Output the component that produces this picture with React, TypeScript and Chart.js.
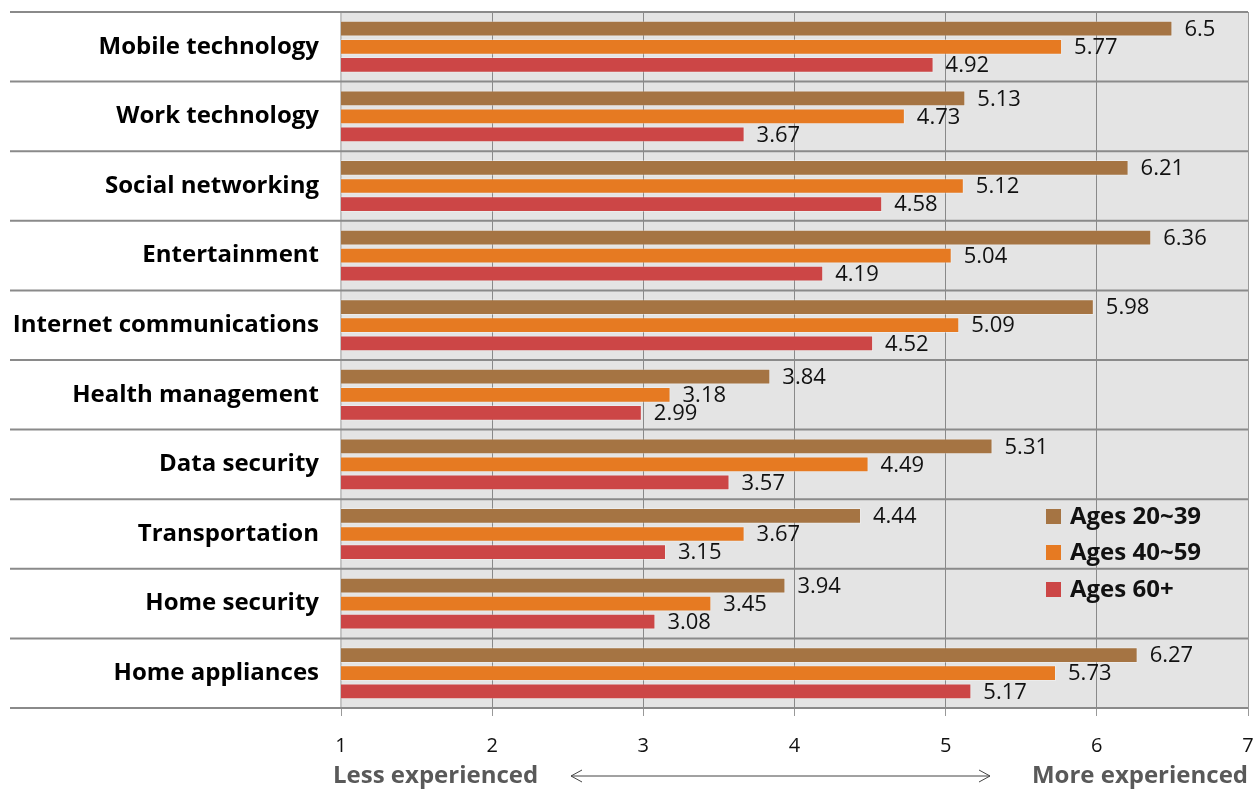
import React, { useEffect, useRef } from "react";
import { Chart, registerables } from "chart.js";

Chart.register(...registerables);

const categories = [
  "Mobile technology",
  "Work technology",
  "Social networking",
  "Entertainment",
  "Internet communications",
  "Health management",
  "Data security",
  "Transportation",
  "Home security",
  "Home appliances",
];
const ages20to39 = [6.5, 5.13, 6.21, 6.36, 5.98, 3.84, 5.31, 4.44, 3.94, 6.27];
const ages40to59 = [5.77, 4.73, 5.12, 5.04, 5.09, 3.18, 4.49, 3.67, 3.45, 5.73];
const ages60plus = [4.92, 3.67, 4.58, 4.19, 4.52, 2.99, 3.57, 3.15, 3.08, 5.17];
const seriesNames = ["Ages 20~39", "Ages 40~59", "Ages 60+"];
const seriesColors = ["#A57443", "#E67A22", "#CC4646"];
const xTicks = [1, 2, 3, 4, 5, 6, 7];
const axisLeftText = "Less experienced";
const axisRightText = "More experienced";

const FONT = "'Open Sans', 'Noto Sans', sans-serif";

const bgPlugin = {
  id: "bgPlugin",
  beforeDraw(chart: any) {
    const { ctx, chartArea } = chart;
    ctx.save();
    ctx.fillStyle = "#ffffff";
    ctx.fillRect(0, 0, chart.width, chart.height);
    ctx.fillStyle = "#E4E4E4";
    ctx.fillRect(chartArea.left, chartArea.top, chartArea.right - chartArea.left, chartArea.bottom - chartArea.top);
    ctx.restore();
  },
  beforeDatasetsDraw(chart: any) {
    const { ctx, chartArea } = chart;
    const y = chart.scales.y;
    const n = categories.length;
    ctx.save();
    ctx.strokeStyle = "#8A8A8A";
    ctx.lineWidth = 2;
    for (let i = 0; i <= n; i++) {
      const p = i === 0 ? chartArea.top : i === n ? chartArea.bottom : (y.getPixelForValue(i - 1) + y.getPixelForValue(i)) / 2;
      ctx.beginPath();
      ctx.moveTo(10, p);
      ctx.lineTo(chartArea.right, p);
      ctx.stroke();
    }
    ctx.restore();
  },
};

const labelPlugin = {
  id: "labelPlugin",
  afterDraw(chart: any) {
    const { ctx, chartArea } = chart;
    ctx.save();
    ctx.font = `400 22px ${FONT}`;
    ctx.fillStyle = "#111";
    ctx.textBaseline = "middle";
    ctx.textAlign = "left";
    chart.data.datasets.forEach((ds: any, di: number) => {
      const meta = chart.getDatasetMeta(di);
      meta.data.forEach((bar: any, i: number) => {
        ctx.fillText(String(ds.data[i]), bar.x + 12, bar.y + 1);
      });
    });

    // legend
    const lx = chartArea.right - 202;
    const rows = [517, 553, 590];
    ctx.font = `700 24px ${FONT}`;
    seriesNames.forEach((name, i) => {
      ctx.fillStyle = seriesColors[i];
      ctx.fillRect(lx, rows[i] - 8, 15, 15);
      ctx.fillStyle = "#111";
      ctx.fillText(name, lx + 24, rows[i]);
    });

    // axis description
    const ty = 776;
    ctx.font = `700 24px ${FONT}`;
    ctx.fillStyle = "#595959";
    ctx.textAlign = "left";
    ctx.fillText(axisLeftText, 333, ty);
    ctx.textAlign = "right";
    ctx.fillText(axisRightText, chartArea.right, ty);
    ctx.strokeStyle = "#444";
    ctx.lineWidth = 1;
    const ax1 = 571, ax2 = 990;
    ctx.beginPath();
    ctx.moveTo(ax1, ty);
    ctx.lineTo(ax2, ty);
    ctx.moveTo(ax1 + 11, ty - 6);
    ctx.lineTo(ax1, ty);
    ctx.lineTo(ax1 + 11, ty + 6);
    ctx.moveTo(ax2 - 11, ty - 6);
    ctx.lineTo(ax2, ty);
    ctx.lineTo(ax2 - 11, ty + 6);
    ctx.stroke();
    ctx.restore();
  },
};

export default function App() {
  const ref = useRef<HTMLCanvasElement>(null);
  useEffect(() => {
    if (!ref.current) return;
    const chart = new Chart(ref.current, {
      type: "bar",
      data: {
        labels: categories,
        datasets: [
          { label: seriesNames[0], data: ages20to39, backgroundColor: seriesColors[0] },
          { label: seriesNames[1], data: ages40to59, backgroundColor: seriesColors[1] },
          { label: seriesNames[2], data: ages60plus, backgroundColor: seriesColors[2] },
        ],
      },
      options: {
        indexAxis: "y",
        animation: false,
        responsive: true,
        maintainAspectRatio: false,
        layout: { padding: { top: 12, right: 12, left: 0, bottom: 0 } },
        datasets: {
          bar: {
            categoryPercentage: 0.78,
            barPercentage: 0.87,
            borderWidth: 1,
            borderColor: "rgba(255,255,255,0.3)",
          },
        },
        plugins: { legend: { display: false }, tooltip: { enabled: false } },
        scales: {
          x: {
            min: 1,
            max: 7,
            z: 1,
            afterFit(scale: any) {
              scale.height = 84;
              scale.paddingLeft = 0;
              scale.paddingRight = 0;
            },
            afterBuildTicks(scale: any) {
              scale.ticks = xTicks.map((v) => ({ value: v }));
            },
            border: { display: false },
            grid: { color: "rgba(0,0,0,0.4)", lineWidth: 1, tickLength: 8, drawTicks: true },
            ticks: { font: { family: FONT, size: 20 }, color: "#111", padding: 18 },
          },
          y: {
            afterFit(scale: any) {
              scale.width = 341;
              scale.paddingTop = 0;
              scale.paddingBottom = 0;
            },
            grid: { display: false, drawTicks: false },
            border: { display: true, color: "#C4C4C4", width: 2 },
            ticks: { font: { family: FONT, size: 24, weight: "bold" }, color: "#000", padding: 22 },
          },
        },
      },
      plugins: [bgPlugin, labelPlugin],
    });
    return () => chart.destroy();
  }, []);
  return (
    <div style={{ position: "absolute", left: 0, top: 0, width: 1260, height: 792 }}>
      <canvas ref={ref} />
    </div>
  );
}
